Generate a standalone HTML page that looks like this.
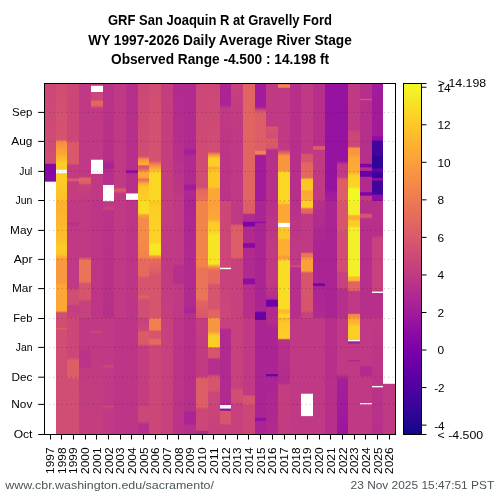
<!DOCTYPE html><html><head><meta charset="utf-8"><style>html,body{margin:0;padding:0;background:#fff;width:500px;height:500px;overflow:hidden}svg{display:block}text{font-family:"Liberation Sans",sans-serif}</style></head><body>
<svg width="500" height="500" viewBox="0 0 500 500" style="will-change:transform">
<defs>
<linearGradient id="g0" gradientUnits="userSpaceOnUse" x1="0" y1="83.5" x2="0" y2="434.5">
<stop offset="0.0000" stop-color="#cc4778"/>
<stop offset="0.2272" stop-color="#d04d73"/>
<stop offset="0.2299" stop-color="#8808a6"/>
<stop offset="0.2796" stop-color="#8808a6"/>
<stop offset="0.2803" stop-color="#cc4778"/>
<stop offset="1.0000" stop-color="#cc4778"/>
</linearGradient>
<linearGradient id="g1" gradientUnits="userSpaceOnUse" x1="0" y1="83.5" x2="0" y2="434.5">
<stop offset="0.0000" stop-color="#d04d73"/>
<stop offset="0.1600" stop-color="#d5536f"/>
<stop offset="0.1653" stop-color="#f58b47"/>
<stop offset="0.2003" stop-color="#fca636"/>
<stop offset="0.2272" stop-color="#fcce25"/>
<stop offset="0.2440" stop-color="#fcce25"/>
<stop offset="0.2575" stop-color="#fcce25"/>
<stop offset="0.3348" stop-color="#febe2a"/>
<stop offset="0.3348" stop-color="#fdae32"/>
<stop offset="0.4462" stop-color="#febe2a"/>
<stop offset="0.4664" stop-color="#fcce25"/>
<stop offset="0.4866" stop-color="#fdc627"/>
<stop offset="0.5000" stop-color="#f9983e"/>
<stop offset="0.5673" stop-color="#f9983e"/>
<stop offset="0.5740" stop-color="#fca636"/>
<stop offset="0.6479" stop-color="#fca636"/>
<stop offset="0.6533" stop-color="#d04d73"/>
<stop offset="0.6652" stop-color="#d04d73"/>
<stop offset="0.6955" stop-color="#d04d73"/>
<stop offset="0.6989" stop-color="#e16462"/>
<stop offset="0.7022" stop-color="#d04d73"/>
<stop offset="1.0000" stop-color="#d04d73"/>
</linearGradient>
<linearGradient id="g2" gradientUnits="userSpaceOnUse" x1="0" y1="83.5" x2="0" y2="434.5">
<stop offset="0.0000" stop-color="#cc4778"/>
<stop offset="0.1600" stop-color="#cc4778"/>
<stop offset="0.1700" stop-color="#d9586a"/>
<stop offset="0.2272" stop-color="#d9586a"/>
<stop offset="0.2339" stop-color="#c13b82"/>
<stop offset="0.2675" stop-color="#c13b82"/>
<stop offset="0.2743" stop-color="#e16462"/>
<stop offset="0.2810" stop-color="#c43e7f"/>
<stop offset="0.3348" stop-color="#c43e7f"/>
<stop offset="0.3348" stop-color="#bf3984"/>
<stop offset="0.3924" stop-color="#bf3984"/>
<stop offset="0.3991" stop-color="#b6308b"/>
<stop offset="0.4092" stop-color="#bf3984"/>
<stop offset="0.5807" stop-color="#bf3984"/>
<stop offset="0.5908" stop-color="#d04d73"/>
<stop offset="0.6278" stop-color="#d04d73"/>
<stop offset="0.6345" stop-color="#c43e7f"/>
<stop offset="0.6681" stop-color="#c6417d"/>
<stop offset="0.6681" stop-color="#cc4778"/>
<stop offset="0.7796" stop-color="#cc4778"/>
<stop offset="0.7896" stop-color="#dd5e66"/>
<stop offset="0.8367" stop-color="#dd5e66"/>
<stop offset="0.8434" stop-color="#d04d73"/>
<stop offset="1.0000" stop-color="#d04d73"/>
</linearGradient>
<linearGradient id="g3" gradientUnits="userSpaceOnUse" x1="0" y1="83.5" x2="0" y2="434.5">
<stop offset="0.0000" stop-color="#bf3984"/>
<stop offset="0.2642" stop-color="#bf3984"/>
<stop offset="0.2709" stop-color="#e16462"/>
<stop offset="0.2843" stop-color="#dd5e66"/>
<stop offset="0.2891" stop-color="#c6417d"/>
<stop offset="0.3348" stop-color="#c13b82"/>
<stop offset="0.3348" stop-color="#bf3984"/>
<stop offset="0.4933" stop-color="#bf3984"/>
<stop offset="0.5034" stop-color="#ea7457"/>
<stop offset="0.5639" stop-color="#ea7457"/>
<stop offset="0.5706" stop-color="#d6556d"/>
<stop offset="0.6143" stop-color="#d6556d"/>
<stop offset="0.6210" stop-color="#c6417d"/>
<stop offset="0.6681" stop-color="#c6417d"/>
<stop offset="0.6681" stop-color="#bf3984"/>
<stop offset="0.7560" stop-color="#bf3984"/>
<stop offset="0.7627" stop-color="#ba3388"/>
<stop offset="0.8064" stop-color="#ba3388"/>
<stop offset="0.8132" stop-color="#c13b82"/>
<stop offset="1.0000" stop-color="#c43e7f"/>
</linearGradient>
<linearGradient id="g4" gradientUnits="userSpaceOnUse" x1="0" y1="83.5" x2="0" y2="434.5">
<stop offset="0.0000" stop-color="#c6417d"/>
<stop offset="0.0456" stop-color="#cc4778"/>
<stop offset="0.0524" stop-color="#e56a5d"/>
<stop offset="0.0625" stop-color="#e16462"/>
<stop offset="0.0692" stop-color="#c6417d"/>
<stop offset="0.0759" stop-color="#bf3984"/>
<stop offset="0.3348" stop-color="#bf3984"/>
<stop offset="0.3348" stop-color="#bc3587"/>
<stop offset="0.6681" stop-color="#bc3587"/>
<stop offset="0.6681" stop-color="#bf3984"/>
<stop offset="0.7022" stop-color="#bf3984"/>
<stop offset="0.7089" stop-color="#cc4778"/>
<stop offset="0.7137" stop-color="#bf3984"/>
<stop offset="1.0000" stop-color="#c43e7f"/>
</linearGradient>
<linearGradient id="g5" gradientUnits="userSpaceOnUse" x1="0" y1="83.5" x2="0" y2="434.5">
<stop offset="0.0000" stop-color="#ba3388"/>
<stop offset="0.2171" stop-color="#b6308b"/>
<stop offset="0.2272" stop-color="#ab2494"/>
<stop offset="0.2406" stop-color="#ab2494"/>
<stop offset="0.2474" stop-color="#b6308b"/>
<stop offset="0.2877" stop-color="#b6308b"/>
<stop offset="0.3353" stop-color="#bf3984"/>
<stop offset="0.3487" stop-color="#bf3984"/>
<stop offset="0.3554" stop-color="#cc4778"/>
<stop offset="0.3622" stop-color="#ba3388"/>
<stop offset="0.6681" stop-color="#b6308b"/>
<stop offset="0.6681" stop-color="#bf3984"/>
<stop offset="0.7997" stop-color="#bf3984"/>
<stop offset="0.8064" stop-color="#cc4778"/>
<stop offset="0.8132" stop-color="#bf3984"/>
<stop offset="0.9140" stop-color="#bf3984"/>
<stop offset="0.9208" stop-color="#cc4778"/>
<stop offset="0.9275" stop-color="#bf3984"/>
<stop offset="1.0000" stop-color="#bf3984"/>
</linearGradient>
<linearGradient id="g6" gradientUnits="userSpaceOnUse" x1="0" y1="83.5" x2="0" y2="434.5">
<stop offset="0.0000" stop-color="#bf3984"/>
<stop offset="0.2944" stop-color="#bf3984"/>
<stop offset="0.3045" stop-color="#dd5e66"/>
<stop offset="0.3146" stop-color="#bf3984"/>
<stop offset="0.3348" stop-color="#bf3984"/>
<stop offset="0.3348" stop-color="#bf3984"/>
<stop offset="0.6681" stop-color="#bf3984"/>
<stop offset="0.6681" stop-color="#bc3587"/>
<stop offset="1.0000" stop-color="#bc3587"/>
</linearGradient>
<linearGradient id="g7" gradientUnits="userSpaceOnUse" x1="0" y1="83.5" x2="0" y2="434.5">
<stop offset="0.0000" stop-color="#b6308b"/>
<stop offset="0.2460" stop-color="#b6308b"/>
<stop offset="0.2487" stop-color="#8f0da4"/>
<stop offset="0.2541" stop-color="#8f0da4"/>
<stop offset="0.2568" stop-color="#b6308b"/>
<stop offset="0.3348" stop-color="#b6308b"/>
<stop offset="0.3348" stop-color="#bc3587"/>
<stop offset="0.6681" stop-color="#bc3587"/>
<stop offset="0.6681" stop-color="#bc3587"/>
<stop offset="1.0000" stop-color="#bc3587"/>
</linearGradient>
<linearGradient id="g8" gradientUnits="userSpaceOnUse" x1="0" y1="83.5" x2="0" y2="434.5">
<stop offset="0.0000" stop-color="#cc4778"/>
<stop offset="0.2070" stop-color="#d04d73"/>
<stop offset="0.2171" stop-color="#f89540"/>
<stop offset="0.2306" stop-color="#fdae32"/>
<stop offset="0.2353" stop-color="#d6556d"/>
<stop offset="0.2440" stop-color="#e16462"/>
<stop offset="0.2541" stop-color="#fca636"/>
<stop offset="0.2675" stop-color="#fca636"/>
<stop offset="0.2743" stop-color="#e56a5d"/>
<stop offset="0.2843" stop-color="#fca636"/>
<stop offset="0.2944" stop-color="#fdc627"/>
<stop offset="0.3348" stop-color="#fcce25"/>
<stop offset="0.3348" stop-color="#f9dc24"/>
<stop offset="0.3689" stop-color="#f9dc24"/>
<stop offset="0.3756" stop-color="#fb9f3a"/>
<stop offset="0.3857" stop-color="#f58b47"/>
<stop offset="0.4395" stop-color="#f58b47"/>
<stop offset="0.4933" stop-color="#f2844b"/>
<stop offset="0.5034" stop-color="#e56a5d"/>
<stop offset="0.5471" stop-color="#e56a5d"/>
<stop offset="0.5538" stop-color="#d6556d"/>
<stop offset="0.6009" stop-color="#d6556d"/>
<stop offset="0.6076" stop-color="#e16462"/>
<stop offset="0.6177" stop-color="#d04d73"/>
<stop offset="0.6681" stop-color="#d04d73"/>
<stop offset="0.6681" stop-color="#c6417d"/>
<stop offset="0.7022" stop-color="#cc4778"/>
<stop offset="0.7089" stop-color="#da5b69"/>
<stop offset="0.7426" stop-color="#d9586a"/>
<stop offset="0.7493" stop-color="#c43e7f"/>
<stop offset="0.9140" stop-color="#c43e7f"/>
<stop offset="0.9241" stop-color="#cc4778"/>
<stop offset="0.9611" stop-color="#cc4778"/>
<stop offset="0.9712" stop-color="#b6308b"/>
<stop offset="0.9947" stop-color="#b6308b"/>
<stop offset="1.0000" stop-color="#bf3984"/>
</linearGradient>
<linearGradient id="g9" gradientUnits="userSpaceOnUse" x1="0" y1="83.5" x2="0" y2="434.5">
<stop offset="0.0000" stop-color="#d04d73"/>
<stop offset="0.2205" stop-color="#d5536f"/>
<stop offset="0.2306" stop-color="#f2844b"/>
<stop offset="0.2440" stop-color="#fdae32"/>
<stop offset="0.2575" stop-color="#fbd724"/>
<stop offset="0.3348" stop-color="#fbd724"/>
<stop offset="0.3348" stop-color="#febe2a"/>
<stop offset="0.3487" stop-color="#fcce25"/>
<stop offset="0.4529" stop-color="#fcd225"/>
<stop offset="0.4597" stop-color="#f6e826"/>
<stop offset="0.4866" stop-color="#f7e425"/>
<stop offset="0.4933" stop-color="#f89540"/>
<stop offset="0.5034" stop-color="#e56a5d"/>
<stop offset="0.5336" stop-color="#dd5e66"/>
<stop offset="0.5471" stop-color="#d6556d"/>
<stop offset="0.6681" stop-color="#d6556d"/>
<stop offset="0.6681" stop-color="#e16462"/>
<stop offset="0.6720" stop-color="#ef7e50"/>
<stop offset="0.7022" stop-color="#ef7e50"/>
<stop offset="0.7056" stop-color="#d6556d"/>
<stop offset="0.7258" stop-color="#d6556d"/>
<stop offset="0.7291" stop-color="#e56a5d"/>
<stop offset="0.7426" stop-color="#e56a5d"/>
<stop offset="0.7473" stop-color="#cc4778"/>
<stop offset="1.0000" stop-color="#cc4778"/>
</linearGradient>
<linearGradient id="g10" gradientUnits="userSpaceOnUse" x1="0" y1="83.5" x2="0" y2="434.5">
<stop offset="0.0000" stop-color="#c43e7f"/>
<stop offset="0.3348" stop-color="#c43e7f"/>
<stop offset="0.5000" stop-color="#bf3984"/>
<stop offset="0.6681" stop-color="#c43e7f"/>
<stop offset="0.6681" stop-color="#c6417d"/>
<stop offset="1.0000" stop-color="#c6417d"/>
</linearGradient>
<linearGradient id="g11" gradientUnits="userSpaceOnUse" x1="0" y1="83.5" x2="0" y2="434.5">
<stop offset="0.0000" stop-color="#b12a90"/>
<stop offset="0.2003" stop-color="#b6308b"/>
<stop offset="0.3348" stop-color="#bf3984"/>
<stop offset="0.5135" stop-color="#bf3984"/>
<stop offset="0.5202" stop-color="#b6308b"/>
<stop offset="0.5673" stop-color="#b6308b"/>
<stop offset="0.5740" stop-color="#bf3984"/>
<stop offset="0.6681" stop-color="#bf3984"/>
<stop offset="0.6681" stop-color="#bc3587"/>
<stop offset="1.0000" stop-color="#ba3388"/>
</linearGradient>
<linearGradient id="g12" gradientUnits="userSpaceOnUse" x1="0" y1="83.5" x2="0" y2="434.5">
<stop offset="0.0000" stop-color="#b12a90"/>
<stop offset="0.1835" stop-color="#b12a90"/>
<stop offset="0.1902" stop-color="#a51f99"/>
<stop offset="0.2003" stop-color="#a51f99"/>
<stop offset="0.2070" stop-color="#b12a90"/>
<stop offset="0.2843" stop-color="#b12a90"/>
<stop offset="0.2911" stop-color="#a11b9b"/>
<stop offset="0.3012" stop-color="#a11b9b"/>
<stop offset="0.3079" stop-color="#b12a90"/>
<stop offset="0.3348" stop-color="#ab2494"/>
<stop offset="0.3348" stop-color="#ab2494"/>
<stop offset="0.4664" stop-color="#b12a90"/>
<stop offset="0.6345" stop-color="#b12a90"/>
<stop offset="0.6412" stop-color="#ab2494"/>
<stop offset="0.6513" stop-color="#ab2494"/>
<stop offset="0.6580" stop-color="#b6308b"/>
<stop offset="0.6652" stop-color="#b6308b"/>
<stop offset="0.9308" stop-color="#b6308b"/>
<stop offset="0.9376" stop-color="#ab2494"/>
<stop offset="0.9678" stop-color="#ab2494"/>
<stop offset="0.9746" stop-color="#b6308b"/>
<stop offset="1.0000" stop-color="#b6308b"/>
</linearGradient>
<linearGradient id="g13" gradientUnits="userSpaceOnUse" x1="0" y1="83.5" x2="0" y2="434.5">
<stop offset="0.0000" stop-color="#cc4778"/>
<stop offset="0.2944" stop-color="#d04d73"/>
<stop offset="0.3045" stop-color="#e56a5d"/>
<stop offset="0.3348" stop-color="#ea7457"/>
<stop offset="0.3348" stop-color="#f2844b"/>
<stop offset="0.5202" stop-color="#f2844b"/>
<stop offset="0.5269" stop-color="#ea7457"/>
<stop offset="0.6143" stop-color="#ea7457"/>
<stop offset="0.6210" stop-color="#e16462"/>
<stop offset="0.6681" stop-color="#d6556d"/>
<stop offset="0.6681" stop-color="#c43e7f"/>
<stop offset="0.8333" stop-color="#bf3984"/>
<stop offset="0.8414" stop-color="#dd5e66"/>
<stop offset="0.9208" stop-color="#dd5e66"/>
<stop offset="0.9275" stop-color="#cc4778"/>
<stop offset="0.9880" stop-color="#cc4778"/>
<stop offset="0.9914" stop-color="#b12a90"/>
<stop offset="0.9981" stop-color="#b12a90"/>
<stop offset="1.0000" stop-color="#bf3984"/>
</linearGradient>
<linearGradient id="g14" gradientUnits="userSpaceOnUse" x1="0" y1="83.5" x2="0" y2="434.5">
<stop offset="0.0000" stop-color="#cc4778"/>
<stop offset="0.1936" stop-color="#d04d73"/>
<stop offset="0.2037" stop-color="#f89540"/>
<stop offset="0.2137" stop-color="#fcce25"/>
<stop offset="0.2339" stop-color="#fcce25"/>
<stop offset="0.2406" stop-color="#fca636"/>
<stop offset="0.2507" stop-color="#fdc627"/>
<stop offset="0.2944" stop-color="#fdc627"/>
<stop offset="0.3012" stop-color="#fca636"/>
<stop offset="0.3348" stop-color="#fca636"/>
<stop offset="0.3348" stop-color="#fb9f3a"/>
<stop offset="0.3857" stop-color="#fca636"/>
<stop offset="0.3991" stop-color="#fcce25"/>
<stop offset="0.4193" stop-color="#fcce25"/>
<stop offset="0.4328" stop-color="#f7e425"/>
<stop offset="0.5135" stop-color="#f7e425"/>
<stop offset="0.5235" stop-color="#f58b47"/>
<stop offset="0.5336" stop-color="#e56a5d"/>
<stop offset="0.5673" stop-color="#e56a5d"/>
<stop offset="0.5740" stop-color="#d6556d"/>
<stop offset="0.6412" stop-color="#d6556d"/>
<stop offset="0.6479" stop-color="#e16462"/>
<stop offset="0.6681" stop-color="#e16462"/>
<stop offset="0.6681" stop-color="#f89540"/>
<stop offset="0.7056" stop-color="#f89540"/>
<stop offset="0.7190" stop-color="#fcce25"/>
<stop offset="0.7493" stop-color="#fcce25"/>
<stop offset="0.7540" stop-color="#d6556d"/>
<stop offset="0.7796" stop-color="#d6556d"/>
<stop offset="0.7863" stop-color="#b6308b"/>
<stop offset="0.8266" stop-color="#b6308b"/>
<stop offset="0.8367" stop-color="#d6556d"/>
<stop offset="0.8737" stop-color="#d6556d"/>
<stop offset="0.8804" stop-color="#cc4778"/>
<stop offset="1.0000" stop-color="#c6417d"/>
</linearGradient>
<linearGradient id="g15" gradientUnits="userSpaceOnUse" x1="0" y1="83.5" x2="0" y2="434.5">
<stop offset="0.0000" stop-color="#ab2494"/>
<stop offset="0.0625" stop-color="#ab2494"/>
<stop offset="0.0692" stop-color="#bf3984"/>
<stop offset="0.3348" stop-color="#ba3388"/>
<stop offset="0.3348" stop-color="#cc4778"/>
<stop offset="0.5202" stop-color="#cc4778"/>
<stop offset="0.5336" stop-color="#c6417d"/>
<stop offset="0.6681" stop-color="#cc4778"/>
<stop offset="0.6681" stop-color="#c6417d"/>
<stop offset="0.6955" stop-color="#c6417d"/>
<stop offset="0.7022" stop-color="#b12a90"/>
<stop offset="0.9140" stop-color="#b12a90"/>
<stop offset="0.9261" stop-color="#8f0da4"/>
<stop offset="0.9308" stop-color="#8f0da4"/>
<stop offset="0.9342" stop-color="#d6556d"/>
<stop offset="0.9678" stop-color="#d6556d"/>
<stop offset="0.9746" stop-color="#c6417d"/>
<stop offset="1.0000" stop-color="#c6417d"/>
</linearGradient>
<linearGradient id="g16" gradientUnits="userSpaceOnUse" x1="0" y1="83.5" x2="0" y2="434.5">
<stop offset="0.0000" stop-color="#c6417d"/>
<stop offset="0.1331" stop-color="#bf3984"/>
<stop offset="0.3348" stop-color="#bf3984"/>
<stop offset="0.3348" stop-color="#bf3984"/>
<stop offset="0.3991" stop-color="#bf3984"/>
<stop offset="0.4059" stop-color="#dd5e66"/>
<stop offset="0.4933" stop-color="#dd5e66"/>
<stop offset="0.5034" stop-color="#c6417d"/>
<stop offset="0.6681" stop-color="#c6417d"/>
<stop offset="0.6681" stop-color="#c6417d"/>
<stop offset="0.8670" stop-color="#c6417d"/>
<stop offset="0.8737" stop-color="#d04d73"/>
<stop offset="0.9073" stop-color="#d04d73"/>
<stop offset="0.9140" stop-color="#c6417d"/>
<stop offset="1.0000" stop-color="#c6417d"/>
</linearGradient>
<linearGradient id="g17" gradientUnits="userSpaceOnUse" x1="0" y1="83.5" x2="0" y2="434.5">
<stop offset="0.0000" stop-color="#e16462"/>
<stop offset="0.3348" stop-color="#e16462"/>
<stop offset="0.3348" stop-color="#dd5e66"/>
<stop offset="0.3689" stop-color="#dd5e66"/>
<stop offset="0.3736" stop-color="#b12a90"/>
<stop offset="0.3924" stop-color="#b12a90"/>
<stop offset="0.3958" stop-color="#7e03a8"/>
<stop offset="0.4059" stop-color="#7e03a8"/>
<stop offset="0.4092" stop-color="#b12a90"/>
<stop offset="0.4529" stop-color="#b12a90"/>
<stop offset="0.4563" stop-color="#8808a6"/>
<stop offset="0.4664" stop-color="#8808a6"/>
<stop offset="0.4698" stop-color="#b12a90"/>
<stop offset="0.5538" stop-color="#b12a90"/>
<stop offset="0.5572" stop-color="#8f0da4"/>
<stop offset="0.5706" stop-color="#8f0da4"/>
<stop offset="0.5740" stop-color="#b6308b"/>
<stop offset="0.6681" stop-color="#b6308b"/>
<stop offset="0.6681" stop-color="#bf3984"/>
<stop offset="0.8871" stop-color="#bf3984"/>
<stop offset="0.8905" stop-color="#d6556d"/>
<stop offset="0.9140" stop-color="#d6556d"/>
<stop offset="0.9174" stop-color="#cc4778"/>
<stop offset="1.0000" stop-color="#cc4778"/>
</linearGradient>
<linearGradient id="g18" gradientUnits="userSpaceOnUse" x1="0" y1="83.5" x2="0" y2="434.5">
<stop offset="0.0000" stop-color="#a11b9b"/>
<stop offset="0.0658" stop-color="#a11b9b"/>
<stop offset="0.0759" stop-color="#cc4778"/>
<stop offset="0.0826" stop-color="#dd5e66"/>
<stop offset="0.1902" stop-color="#dd5e66"/>
<stop offset="0.1936" stop-color="#f2844b"/>
<stop offset="0.2003" stop-color="#f2844b"/>
<stop offset="0.2057" stop-color="#a11b9b"/>
<stop offset="0.3348" stop-color="#a11b9b"/>
<stop offset="0.3348" stop-color="#ab2494"/>
<stop offset="0.3924" stop-color="#ab2494"/>
<stop offset="0.3944" stop-color="#8f0da4"/>
<stop offset="0.3978" stop-color="#8f0da4"/>
<stop offset="0.3991" stop-color="#ab2494"/>
<stop offset="0.6479" stop-color="#ab2494"/>
<stop offset="0.6533" stop-color="#6a00a8"/>
<stop offset="0.6681" stop-color="#6a00a8"/>
<stop offset="0.6681" stop-color="#7201a8"/>
<stop offset="0.6733" stop-color="#7201a8"/>
<stop offset="0.6753" stop-color="#ab2494"/>
<stop offset="0.9510" stop-color="#ab2494"/>
<stop offset="0.9544" stop-color="#8f0da4"/>
<stop offset="0.9598" stop-color="#8f0da4"/>
<stop offset="0.9624" stop-color="#ab2494"/>
<stop offset="1.0000" stop-color="#ab2494"/>
</linearGradient>
<linearGradient id="g19" gradientUnits="userSpaceOnUse" x1="0" y1="83.5" x2="0" y2="434.5">
<stop offset="0.0000" stop-color="#bf3984"/>
<stop offset="0.1196" stop-color="#bf3984"/>
<stop offset="0.1250" stop-color="#d6556d"/>
<stop offset="0.1532" stop-color="#d04d73"/>
<stop offset="0.1600" stop-color="#dd5e66"/>
<stop offset="0.1835" stop-color="#d6556d"/>
<stop offset="0.1902" stop-color="#b6308b"/>
<stop offset="0.3348" stop-color="#b6308b"/>
<stop offset="0.3348" stop-color="#b6308b"/>
<stop offset="0.4664" stop-color="#bf3984"/>
<stop offset="0.5740" stop-color="#bf3984"/>
<stop offset="0.6143" stop-color="#b12a90"/>
<stop offset="0.6177" stop-color="#7201a8"/>
<stop offset="0.6345" stop-color="#7201a8"/>
<stop offset="0.6379" stop-color="#b12a90"/>
<stop offset="0.6681" stop-color="#b12a90"/>
<stop offset="0.6681" stop-color="#b6308b"/>
<stop offset="0.6989" stop-color="#ab2494"/>
<stop offset="0.8266" stop-color="#ab2494"/>
<stop offset="0.8286" stop-color="#7201a8"/>
<stop offset="0.8333" stop-color="#7201a8"/>
<stop offset="0.8354" stop-color="#ab2494"/>
<stop offset="1.0000" stop-color="#b12a90"/>
</linearGradient>
<linearGradient id="g20" gradientUnits="userSpaceOnUse" x1="0" y1="83.5" x2="0" y2="434.5">
<stop offset="0.0000" stop-color="#bf3984"/>
<stop offset="0.0040" stop-color="#f2844b"/>
<stop offset="0.0107" stop-color="#f2844b"/>
<stop offset="0.0134" stop-color="#bf3984"/>
<stop offset="0.1869" stop-color="#bf3984"/>
<stop offset="0.1936" stop-color="#d6556d"/>
<stop offset="0.2070" stop-color="#f89540"/>
<stop offset="0.2474" stop-color="#f89540"/>
<stop offset="0.2541" stop-color="#fbd724"/>
<stop offset="0.3348" stop-color="#fbd724"/>
<stop offset="0.3348" stop-color="#fdc627"/>
<stop offset="0.3420" stop-color="#fdc627"/>
<stop offset="0.3454" stop-color="#fca636"/>
<stop offset="0.3924" stop-color="#fca636"/>
<stop offset="0.4126" stop-color="#fdc627"/>
<stop offset="0.4395" stop-color="#fdc627"/>
<stop offset="0.4462" stop-color="#fdae32"/>
<stop offset="0.4866" stop-color="#fdae32"/>
<stop offset="0.4966" stop-color="#f89540"/>
<stop offset="0.5067" stop-color="#f9dc24"/>
<stop offset="0.6412" stop-color="#f9dc24"/>
<stop offset="0.6446" stop-color="#feba2c"/>
<stop offset="0.6547" stop-color="#feba2c"/>
<stop offset="0.6580" stop-color="#fbd724"/>
<stop offset="0.6681" stop-color="#fbd724"/>
<stop offset="0.6681" stop-color="#fdae32"/>
<stop offset="0.6821" stop-color="#fdc627"/>
<stop offset="0.7258" stop-color="#fcce25"/>
<stop offset="0.7305" stop-color="#b6308b"/>
<stop offset="0.8535" stop-color="#b32c8e"/>
<stop offset="0.8602" stop-color="#c43e7f"/>
<stop offset="1.0000" stop-color="#c13b82"/>
</linearGradient>
<linearGradient id="g21" gradientUnits="userSpaceOnUse" x1="0" y1="83.5" x2="0" y2="434.5">
<stop offset="0.0000" stop-color="#b6308b"/>
<stop offset="0.3348" stop-color="#b6308b"/>
<stop offset="0.3348" stop-color="#b6308b"/>
<stop offset="0.4664" stop-color="#bf3984"/>
<stop offset="0.5168" stop-color="#bf3984"/>
<stop offset="0.5202" stop-color="#d6556d"/>
<stop offset="0.5235" stop-color="#bf3984"/>
<stop offset="0.5269" stop-color="#b6308b"/>
<stop offset="0.6681" stop-color="#b6308b"/>
<stop offset="0.6681" stop-color="#bf3984"/>
<stop offset="1.0000" stop-color="#bf3984"/>
</linearGradient>
<linearGradient id="g22" gradientUnits="userSpaceOnUse" x1="0" y1="83.5" x2="0" y2="434.5">
<stop offset="0.0000" stop-color="#bf3984"/>
<stop offset="0.1969" stop-color="#bf3984"/>
<stop offset="0.2037" stop-color="#d6556d"/>
<stop offset="0.2205" stop-color="#d6556d"/>
<stop offset="0.2272" stop-color="#e16462"/>
<stop offset="0.2675" stop-color="#e56a5d"/>
<stop offset="0.2743" stop-color="#fdc627"/>
<stop offset="0.3012" stop-color="#fdc627"/>
<stop offset="0.3079" stop-color="#fca636"/>
<stop offset="0.3348" stop-color="#fdae32"/>
<stop offset="0.3348" stop-color="#fcce25"/>
<stop offset="0.3521" stop-color="#fcce25"/>
<stop offset="0.3575" stop-color="#e56a5d"/>
<stop offset="0.3689" stop-color="#e16462"/>
<stop offset="0.3736" stop-color="#bf3984"/>
<stop offset="0.4798" stop-color="#bf3984"/>
<stop offset="0.4852" stop-color="#ea7457"/>
<stop offset="0.4933" stop-color="#ea7457"/>
<stop offset="0.5000" stop-color="#fb9f3a"/>
<stop offset="0.5336" stop-color="#fb9f3a"/>
<stop offset="0.5404" stop-color="#d6556d"/>
<stop offset="0.6479" stop-color="#d6556d"/>
<stop offset="0.6533" stop-color="#c6417d"/>
<stop offset="0.6681" stop-color="#c6417d"/>
<stop offset="0.6681" stop-color="#bf3984"/>
<stop offset="1.0000" stop-color="#bf3984"/>
</linearGradient>
<linearGradient id="g23" gradientUnits="userSpaceOnUse" x1="0" y1="83.5" x2="0" y2="434.5">
<stop offset="0.0000" stop-color="#b6308b"/>
<stop offset="0.1768" stop-color="#b6308b"/>
<stop offset="0.1801" stop-color="#dd5e66"/>
<stop offset="0.1869" stop-color="#dd5e66"/>
<stop offset="0.1902" stop-color="#bf3984"/>
<stop offset="0.3348" stop-color="#bf3984"/>
<stop offset="0.3348" stop-color="#b6308b"/>
<stop offset="0.4664" stop-color="#ab2494"/>
<stop offset="0.5686" stop-color="#ab2494"/>
<stop offset="0.5706" stop-color="#7201a8"/>
<stop offset="0.5753" stop-color="#7201a8"/>
<stop offset="0.5773" stop-color="#ab2494"/>
<stop offset="0.6681" stop-color="#b12a90"/>
<stop offset="0.6681" stop-color="#bf3984"/>
<stop offset="1.0000" stop-color="#bf3984"/>
</linearGradient>
<linearGradient id="g24" gradientUnits="userSpaceOnUse" x1="0" y1="83.5" x2="0" y2="434.5">
<stop offset="0.0000" stop-color="#9613a1"/>
<stop offset="0.3012" stop-color="#9613a1"/>
<stop offset="0.3146" stop-color="#a11b9b"/>
<stop offset="0.3348" stop-color="#a51f99"/>
<stop offset="0.3348" stop-color="#ab2494"/>
<stop offset="0.6681" stop-color="#ab2494"/>
<stop offset="0.6681" stop-color="#b6308b"/>
<stop offset="1.0000" stop-color="#b6308b"/>
</linearGradient>
<linearGradient id="g25" gradientUnits="userSpaceOnUse" x1="0" y1="83.5" x2="0" y2="434.5">
<stop offset="0.0000" stop-color="#9613a1"/>
<stop offset="0.2205" stop-color="#9613a1"/>
<stop offset="0.2306" stop-color="#bf3984"/>
<stop offset="0.2642" stop-color="#bf3984"/>
<stop offset="0.2743" stop-color="#dd5e66"/>
<stop offset="0.3348" stop-color="#dd5e66"/>
<stop offset="0.3348" stop-color="#d6556d"/>
<stop offset="0.4193" stop-color="#d6556d"/>
<stop offset="0.4260" stop-color="#d04d73"/>
<stop offset="0.5336" stop-color="#d04d73"/>
<stop offset="0.5404" stop-color="#c6417d"/>
<stop offset="0.5807" stop-color="#c6417d"/>
<stop offset="0.5874" stop-color="#b6308b"/>
<stop offset="0.6681" stop-color="#b6308b"/>
<stop offset="0.6681" stop-color="#bf3984"/>
<stop offset="0.8266" stop-color="#bf3984"/>
<stop offset="0.8434" stop-color="#a51f99"/>
<stop offset="1.0000" stop-color="#9a169f"/>
</linearGradient>
<linearGradient id="g26" gradientUnits="userSpaceOnUse" x1="0" y1="83.5" x2="0" y2="434.5">
<stop offset="0.0000" stop-color="#bf3984"/>
<stop offset="0.1297" stop-color="#bf3984"/>
<stop offset="0.1398" stop-color="#cc4778"/>
<stop offset="0.1788" stop-color="#cc4778"/>
<stop offset="0.1855" stop-color="#f89540"/>
<stop offset="0.2003" stop-color="#f89540"/>
<stop offset="0.2137" stop-color="#fca636"/>
<stop offset="0.2541" stop-color="#fdae32"/>
<stop offset="0.2608" stop-color="#fcce25"/>
<stop offset="0.2944" stop-color="#fbd724"/>
<stop offset="0.3012" stop-color="#f0f921"/>
<stop offset="0.3348" stop-color="#f0f921"/>
<stop offset="0.3348" stop-color="#f3f027"/>
<stop offset="0.3723" stop-color="#f3f027"/>
<stop offset="0.3776" stop-color="#fdae32"/>
<stop offset="0.3857" stop-color="#fdae32"/>
<stop offset="0.3924" stop-color="#fcce25"/>
<stop offset="0.4059" stop-color="#fcce25"/>
<stop offset="0.4126" stop-color="#f3f027"/>
<stop offset="0.5471" stop-color="#f3f027"/>
<stop offset="0.5525" stop-color="#feba2c"/>
<stop offset="0.5605" stop-color="#feba2c"/>
<stop offset="0.5659" stop-color="#e16462"/>
<stop offset="0.5874" stop-color="#e16462"/>
<stop offset="0.5941" stop-color="#bf3984"/>
<stop offset="0.6547" stop-color="#bf3984"/>
<stop offset="0.6580" stop-color="#f2844b"/>
<stop offset="0.6681" stop-color="#f89540"/>
<stop offset="0.6681" stop-color="#fca636"/>
<stop offset="0.6854" stop-color="#feba2c"/>
<stop offset="0.6921" stop-color="#fcce25"/>
<stop offset="0.7291" stop-color="#fcce25"/>
<stop offset="0.7345" stop-color="#a11b9b"/>
<stop offset="0.7392" stop-color="#a11b9b"/>
<stop offset="0.7426" stop-color="#bf3984"/>
<stop offset="0.7863" stop-color="#bf3984"/>
<stop offset="0.7896" stop-color="#ab2494"/>
<stop offset="0.7930" stop-color="#bf3984"/>
<stop offset="1.0000" stop-color="#bf3984"/>
</linearGradient>
<linearGradient id="g27" gradientUnits="userSpaceOnUse" x1="0" y1="83.5" x2="0" y2="434.5">
<stop offset="0.0000" stop-color="#b6308b"/>
<stop offset="0.0423" stop-color="#b6308b"/>
<stop offset="0.0456" stop-color="#d6556d"/>
<stop offset="0.0490" stop-color="#b6308b"/>
<stop offset="0.2272" stop-color="#b6308b"/>
<stop offset="0.2306" stop-color="#7e03a8"/>
<stop offset="0.2373" stop-color="#7e03a8"/>
<stop offset="0.2406" stop-color="#b6308b"/>
<stop offset="0.2474" stop-color="#b6308b"/>
<stop offset="0.2507" stop-color="#6a00a8"/>
<stop offset="0.2642" stop-color="#6a00a8"/>
<stop offset="0.2675" stop-color="#b12a90"/>
<stop offset="0.3079" stop-color="#b12a90"/>
<stop offset="0.3112" stop-color="#7e03a8"/>
<stop offset="0.3180" stop-color="#7e03a8"/>
<stop offset="0.3213" stop-color="#bf3984"/>
<stop offset="0.3348" stop-color="#bf3984"/>
<stop offset="0.3348" stop-color="#b6308b"/>
<stop offset="0.3689" stop-color="#b6308b"/>
<stop offset="0.3736" stop-color="#d6556d"/>
<stop offset="0.3803" stop-color="#d6556d"/>
<stop offset="0.3857" stop-color="#b6308b"/>
<stop offset="0.6681" stop-color="#b6308b"/>
<stop offset="0.6681" stop-color="#bf3984"/>
<stop offset="0.8031" stop-color="#bf3984"/>
<stop offset="0.8078" stop-color="#b12a90"/>
<stop offset="0.8320" stop-color="#b12a90"/>
<stop offset="0.8367" stop-color="#bf3984"/>
<stop offset="1.0000" stop-color="#bf3984"/>
</linearGradient>
<linearGradient id="g28" gradientUnits="userSpaceOnUse" x1="0" y1="83.5" x2="0" y2="434.5">
<stop offset="0.0000" stop-color="#a11b9b"/>
<stop offset="0.1479" stop-color="#a11b9b"/>
<stop offset="0.1519" stop-color="#8f0da4"/>
<stop offset="0.1613" stop-color="#8f0da4"/>
<stop offset="0.1653" stop-color="#41049d"/>
<stop offset="0.2037" stop-color="#41049d"/>
<stop offset="0.2084" stop-color="#2f0596"/>
<stop offset="0.2406" stop-color="#2f0596"/>
<stop offset="0.2440" stop-color="#6a00a8"/>
<stop offset="0.2507" stop-color="#6a00a8"/>
<stop offset="0.2541" stop-color="#38049a"/>
<stop offset="0.2675" stop-color="#38049a"/>
<stop offset="0.2709" stop-color="#8f0da4"/>
<stop offset="0.2756" stop-color="#8f0da4"/>
<stop offset="0.2776" stop-color="#41049d"/>
<stop offset="0.3146" stop-color="#41049d"/>
<stop offset="0.3180" stop-color="#8f0da4"/>
<stop offset="0.3348" stop-color="#8f0da4"/>
<stop offset="0.3348" stop-color="#b6308b"/>
<stop offset="0.4328" stop-color="#b6308b"/>
<stop offset="0.4395" stop-color="#c6417d"/>
<stop offset="0.5874" stop-color="#c6417d"/>
<stop offset="0.5975" stop-color="#b6308b"/>
<stop offset="0.6681" stop-color="#b6308b"/>
<stop offset="0.6681" stop-color="#bf3984"/>
<stop offset="1.0000" stop-color="#b6308b"/>
</linearGradient>
<linearGradient id="g29" gradientUnits="userSpaceOnUse" x1="0" y1="83.5" x2="0" y2="434.5">
<stop offset="0.0000" stop-color="#bf3984"/>
<stop offset="0.8555" stop-color="#bf3984"/>
<stop offset="1.0000" stop-color="#bf3984"/>
</linearGradient>
<linearGradient id="cb" x1="0" y1="1" x2="0" y2="0">
<stop offset="0.0000" stop-color="#0d0887"/>
<stop offset="0.0312" stop-color="#220690"/>
<stop offset="0.0625" stop-color="#310597"/>
<stop offset="0.0938" stop-color="#3f049c"/>
<stop offset="0.1250" stop-color="#4c02a1"/>
<stop offset="0.1562" stop-color="#5901a5"/>
<stop offset="0.1875" stop-color="#6600a7"/>
<stop offset="0.2188" stop-color="#7201a8"/>
<stop offset="0.2500" stop-color="#7e03a8"/>
<stop offset="0.2812" stop-color="#8a09a5"/>
<stop offset="0.3125" stop-color="#9511a1"/>
<stop offset="0.3438" stop-color="#a01a9c"/>
<stop offset="0.3750" stop-color="#aa2395"/>
<stop offset="0.4062" stop-color="#b32c8e"/>
<stop offset="0.4375" stop-color="#bc3587"/>
<stop offset="0.4688" stop-color="#c43e7f"/>
<stop offset="0.5000" stop-color="#cc4778"/>
<stop offset="0.5312" stop-color="#d35171"/>
<stop offset="0.5625" stop-color="#da5a6a"/>
<stop offset="0.5938" stop-color="#e06363"/>
<stop offset="0.6250" stop-color="#e66c5c"/>
<stop offset="0.6562" stop-color="#eb7655"/>
<stop offset="0.6875" stop-color="#f0804e"/>
<stop offset="0.7188" stop-color="#f58b47"/>
<stop offset="0.7500" stop-color="#f89540"/>
<stop offset="0.7812" stop-color="#fba139"/>
<stop offset="0.8125" stop-color="#fdac33"/>
<stop offset="0.8438" stop-color="#feb82c"/>
<stop offset="0.8750" stop-color="#fdc527"/>
<stop offset="0.9062" stop-color="#fcd225"/>
<stop offset="0.9375" stop-color="#f8df25"/>
<stop offset="0.9688" stop-color="#f4ed27"/>
<stop offset="1.0000" stop-color="#f0f921"/>
</linearGradient>
</defs>
<rect x="44" y="83.5" width="12" height="351.0" fill="url(#g0)" shape-rendering="crispEdges"/>
<rect x="44" y="181.65" width="12" height="252.85" fill="#fff"/>
<rect x="56" y="83.5" width="11" height="351.0" fill="url(#g1)" shape-rendering="crispEdges"/>
<rect x="56" y="169.85" width="11" height="3.30" fill="#fff"/>
<rect x="67" y="83.5" width="12" height="351.0" fill="url(#g2)" shape-rendering="crispEdges"/>
<rect x="79" y="83.5" width="12" height="351.0" fill="url(#g3)" shape-rendering="crispEdges"/>
<rect x="91" y="83.5" width="12" height="351.0" fill="url(#g4)" shape-rendering="crispEdges"/>
<rect x="91" y="85.83" width="12" height="6.14" fill="#fff"/>
<rect x="91" y="159.71" width="12" height="14.16" fill="#fff"/>
<rect x="103" y="83.5" width="11" height="351.0" fill="url(#g5)" shape-rendering="crispEdges"/>
<rect x="103" y="184.96" width="11" height="16.22" fill="#fff"/>
<rect x="114" y="83.5" width="12" height="351.0" fill="url(#g6)" shape-rendering="crispEdges"/>
<rect x="126" y="83.5" width="12" height="351.0" fill="url(#g7)" shape-rendering="crispEdges"/>
<rect x="126" y="193.46" width="12" height="6.37" fill="#fff"/>
<rect x="138" y="83.5" width="11" height="351.0" fill="url(#g8)" shape-rendering="crispEdges"/>
<rect x="149" y="83.5" width="12" height="351.0" fill="url(#g9)" shape-rendering="crispEdges"/>
<rect x="161" y="83.5" width="12" height="351.0" fill="url(#g10)" shape-rendering="crispEdges"/>
<rect x="173" y="83.5" width="11" height="351.0" fill="url(#g11)" shape-rendering="crispEdges"/>
<rect x="184" y="83.5" width="12" height="351.0" fill="url(#g12)" shape-rendering="crispEdges"/>
<rect x="196" y="83.5" width="12" height="351.0" fill="url(#g13)" shape-rendering="crispEdges"/>
<rect x="208" y="83.5" width="12" height="351.0" fill="url(#g14)" shape-rendering="crispEdges"/>
<rect x="220" y="83.5" width="11" height="351.0" fill="url(#g15)" shape-rendering="crispEdges"/>
<rect x="220" y="267.74" width="11" height="1.42" fill="#fff"/>
<rect x="220" y="405.03" width="11" height="3.54" fill="#fff"/>
<rect x="231" y="83.5" width="12" height="351.0" fill="url(#g16)" shape-rendering="crispEdges"/>
<rect x="243" y="83.5" width="12" height="351.0" fill="url(#g17)" shape-rendering="crispEdges"/>
<rect x="255" y="83.5" width="11" height="351.0" fill="url(#g18)" shape-rendering="crispEdges"/>
<rect x="266" y="83.5" width="12" height="351.0" fill="url(#g19)" shape-rendering="crispEdges"/>
<rect x="278" y="83.5" width="12" height="351.0" fill="url(#g20)" shape-rendering="crispEdges"/>
<rect x="278" y="222.89" width="12" height="4.25" fill="#fff"/>
<rect x="290" y="83.5" width="11" height="351.0" fill="url(#g21)" shape-rendering="crispEdges"/>
<rect x="301" y="83.5" width="12" height="351.0" fill="url(#g22)" shape-rendering="crispEdges"/>
<rect x="301" y="393.71" width="12" height="22.42" fill="#fff"/>
<rect x="313" y="83.5" width="12" height="351.0" fill="url(#g23)" shape-rendering="crispEdges"/>
<rect x="325" y="83.5" width="12" height="351.0" fill="url(#g24)" shape-rendering="crispEdges"/>
<rect x="337" y="83.5" width="11" height="351.0" fill="url(#g25)" shape-rendering="crispEdges"/>
<rect x="348" y="83.5" width="12" height="351.0" fill="url(#g26)" shape-rendering="crispEdges"/>
<rect x="348" y="339.89" width="12" height="1.42" fill="#fff"/>
<rect x="360" y="83.5" width="12" height="351.0" fill="url(#g27)" shape-rendering="crispEdges"/>
<rect x="360" y="403.15" width="12" height="1.18" fill="#fff"/>
<rect x="372" y="83.5" width="11" height="351.0" fill="url(#g28)" shape-rendering="crispEdges"/>
<rect x="372" y="291.57" width="11" height="1.42" fill="#fff"/>
<rect x="372" y="385.92" width="11" height="1.42" fill="#fff"/>
<rect x="383" y="83.5" width="12" height="351.0" fill="url(#g29)" shape-rendering="crispEdges"/>
<rect x="383" y="83.50" width="12" height="300.29" fill="#fff"/>
<line x1="49.0" y1="404.40" x2="395.5" y2="404.40" stroke="#000" stroke-width="1" stroke-dasharray="1 3.35" opacity="0.25"/>
<line x1="49.0" y1="377.20" x2="395.5" y2="377.20" stroke="#000" stroke-width="1" stroke-dasharray="1 3.35" opacity="0.25"/>
<line x1="49.0" y1="347.40" x2="395.5" y2="347.40" stroke="#000" stroke-width="1" stroke-dasharray="1 3.35" opacity="0.25"/>
<line x1="49.0" y1="318.50" x2="395.5" y2="318.50" stroke="#000" stroke-width="1" stroke-dasharray="1 3.35" opacity="0.25"/>
<line x1="49.0" y1="288.60" x2="395.5" y2="288.60" stroke="#000" stroke-width="1" stroke-dasharray="1 3.35" opacity="0.25"/>
<line x1="49.0" y1="259.40" x2="395.5" y2="259.40" stroke="#000" stroke-width="1" stroke-dasharray="1 3.35" opacity="0.25"/>
<line x1="49.0" y1="230.40" x2="395.5" y2="230.40" stroke="#000" stroke-width="1" stroke-dasharray="1 3.35" opacity="0.25"/>
<line x1="49.0" y1="200.50" x2="395.5" y2="200.50" stroke="#000" stroke-width="1" stroke-dasharray="1 3.35" opacity="0.25"/>
<line x1="49.0" y1="171.40" x2="395.5" y2="171.40" stroke="#000" stroke-width="1" stroke-dasharray="1 3.35" opacity="0.25"/>
<line x1="49.0" y1="141.40" x2="395.5" y2="141.40" stroke="#000" stroke-width="1" stroke-dasharray="1 3.35" opacity="0.25"/>
<line x1="49.0" y1="112.40" x2="395.5" y2="112.40" stroke="#000" stroke-width="1" stroke-dasharray="1 3.35" opacity="0.25"/>
<rect x="44.5" y="83.5" width="351.0" height="351.0" fill="none" stroke="#000" stroke-width="1"/>
<line x1="38.2" y1="434.50" x2="44.5" y2="434.50" stroke="#000" stroke-width="1"/>
<text x="32.4" y="438.30" font-size="10.4" text-anchor="end" textLength="18.70" lengthAdjust="spacingAndGlyphs">Oct</text>
<line x1="38.2" y1="404.40" x2="44.5" y2="404.40" stroke="#000" stroke-width="1"/>
<text x="32.4" y="408.20" font-size="10.4" text-anchor="end" textLength="21.11" lengthAdjust="spacingAndGlyphs">Nov</text>
<line x1="38.2" y1="377.20" x2="44.5" y2="377.20" stroke="#000" stroke-width="1"/>
<text x="32.4" y="381.00" font-size="10.4" text-anchor="end" textLength="20.93" lengthAdjust="spacingAndGlyphs">Dec</text>
<line x1="38.2" y1="347.40" x2="44.5" y2="347.40" stroke="#000" stroke-width="1"/>
<text x="32.4" y="351.20" font-size="10.4" text-anchor="end" textLength="16.67" lengthAdjust="spacingAndGlyphs">Jan</text>
<line x1="38.2" y1="318.50" x2="44.5" y2="318.50" stroke="#000" stroke-width="1"/>
<text x="32.4" y="322.30" font-size="10.4" text-anchor="end" textLength="19.15" lengthAdjust="spacingAndGlyphs">Feb</text>
<line x1="38.2" y1="288.60" x2="44.5" y2="288.60" stroke="#000" stroke-width="1"/>
<text x="32.4" y="292.40" font-size="10.4" text-anchor="end" textLength="20.41" lengthAdjust="spacingAndGlyphs">Mar</text>
<line x1="38.2" y1="259.40" x2="44.5" y2="259.40" stroke="#000" stroke-width="1"/>
<text x="32.4" y="263.20" font-size="10.4" text-anchor="end" textLength="18.71" lengthAdjust="spacingAndGlyphs">Apr</text>
<line x1="38.2" y1="230.40" x2="44.5" y2="230.40" stroke="#000" stroke-width="1"/>
<text x="32.4" y="234.20" font-size="10.4" text-anchor="end" textLength="22.36" lengthAdjust="spacingAndGlyphs">May</text>
<line x1="38.2" y1="200.50" x2="44.5" y2="200.50" stroke="#000" stroke-width="1"/>
<text x="32.4" y="204.30" font-size="10.4" text-anchor="end" textLength="16.90" lengthAdjust="spacingAndGlyphs">Jun</text>
<line x1="38.2" y1="171.40" x2="44.5" y2="171.40" stroke="#000" stroke-width="1"/>
<text x="32.4" y="175.20" font-size="10.4" text-anchor="end" textLength="13.05" lengthAdjust="spacingAndGlyphs">Jul</text>
<line x1="38.2" y1="141.40" x2="44.5" y2="141.40" stroke="#000" stroke-width="1"/>
<text x="32.4" y="145.20" font-size="10.4" text-anchor="end" textLength="21.12" lengthAdjust="spacingAndGlyphs">Aug</text>
<line x1="38.2" y1="112.40" x2="44.5" y2="112.40" stroke="#000" stroke-width="1"/>
<text x="32.4" y="116.20" font-size="10.4" text-anchor="end" textLength="20.39" lengthAdjust="spacingAndGlyphs">Sep</text>
<line x1="50.50" y1="434.5" x2="50.50" y2="439.5" stroke="#000" stroke-width="1"/>
<text transform="translate(54.05,447.5) rotate(-90)" font-size="10.4" text-anchor="end" textLength="26.47" lengthAdjust="spacingAndGlyphs">1997</text>
<line x1="61.50" y1="434.5" x2="61.50" y2="439.5" stroke="#000" stroke-width="1"/>
<text transform="translate(65.75,447.5) rotate(-90)" font-size="10.4" text-anchor="end" textLength="26.47" lengthAdjust="spacingAndGlyphs">1998</text>
<line x1="73.50" y1="434.5" x2="73.50" y2="439.5" stroke="#000" stroke-width="1"/>
<text transform="translate(77.45,447.5) rotate(-90)" font-size="10.4" text-anchor="end" textLength="26.47" lengthAdjust="spacingAndGlyphs">1999</text>
<line x1="85.50" y1="434.5" x2="85.50" y2="439.5" stroke="#000" stroke-width="1"/>
<text transform="translate(89.15,447.5) rotate(-90)" font-size="10.4" text-anchor="end" textLength="26.47" lengthAdjust="spacingAndGlyphs">2000</text>
<line x1="96.50" y1="434.5" x2="96.50" y2="439.5" stroke="#000" stroke-width="1"/>
<text transform="translate(100.85,447.5) rotate(-90)" font-size="10.4" text-anchor="end" textLength="26.47" lengthAdjust="spacingAndGlyphs">2001</text>
<line x1="108.50" y1="434.5" x2="108.50" y2="439.5" stroke="#000" stroke-width="1"/>
<text transform="translate(112.55,447.5) rotate(-90)" font-size="10.4" text-anchor="end" textLength="26.47" lengthAdjust="spacingAndGlyphs">2002</text>
<line x1="120.50" y1="434.5" x2="120.50" y2="439.5" stroke="#000" stroke-width="1"/>
<text transform="translate(124.25,447.5) rotate(-90)" font-size="10.4" text-anchor="end" textLength="26.47" lengthAdjust="spacingAndGlyphs">2003</text>
<line x1="131.50" y1="434.5" x2="131.50" y2="439.5" stroke="#000" stroke-width="1"/>
<text transform="translate(135.95,447.5) rotate(-90)" font-size="10.4" text-anchor="end" textLength="26.47" lengthAdjust="spacingAndGlyphs">2004</text>
<line x1="143.50" y1="434.5" x2="143.50" y2="439.5" stroke="#000" stroke-width="1"/>
<text transform="translate(147.65,447.5) rotate(-90)" font-size="10.4" text-anchor="end" textLength="26.47" lengthAdjust="spacingAndGlyphs">2005</text>
<line x1="155.50" y1="434.5" x2="155.50" y2="439.5" stroke="#000" stroke-width="1"/>
<text transform="translate(159.35,447.5) rotate(-90)" font-size="10.4" text-anchor="end" textLength="26.47" lengthAdjust="spacingAndGlyphs">2006</text>
<line x1="167.50" y1="434.5" x2="167.50" y2="439.5" stroke="#000" stroke-width="1"/>
<text transform="translate(171.05,447.5) rotate(-90)" font-size="10.4" text-anchor="end" textLength="26.47" lengthAdjust="spacingAndGlyphs">2007</text>
<line x1="178.50" y1="434.5" x2="178.50" y2="439.5" stroke="#000" stroke-width="1"/>
<text transform="translate(182.75,447.5) rotate(-90)" font-size="10.4" text-anchor="end" textLength="26.47" lengthAdjust="spacingAndGlyphs">2008</text>
<line x1="190.50" y1="434.5" x2="190.50" y2="439.5" stroke="#000" stroke-width="1"/>
<text transform="translate(194.45,447.5) rotate(-90)" font-size="10.4" text-anchor="end" textLength="26.47" lengthAdjust="spacingAndGlyphs">2009</text>
<line x1="202.50" y1="434.5" x2="202.50" y2="439.5" stroke="#000" stroke-width="1"/>
<text transform="translate(206.15,447.5) rotate(-90)" font-size="10.4" text-anchor="end" textLength="26.47" lengthAdjust="spacingAndGlyphs">2010</text>
<line x1="213.50" y1="434.5" x2="213.50" y2="439.5" stroke="#000" stroke-width="1"/>
<text transform="translate(217.85,447.5) rotate(-90)" font-size="10.4" text-anchor="end" textLength="26.47" lengthAdjust="spacingAndGlyphs">2011</text>
<line x1="225.50" y1="434.5" x2="225.50" y2="439.5" stroke="#000" stroke-width="1"/>
<text transform="translate(229.55,447.5) rotate(-90)" font-size="10.4" text-anchor="end" textLength="26.47" lengthAdjust="spacingAndGlyphs">2012</text>
<line x1="237.50" y1="434.5" x2="237.50" y2="439.5" stroke="#000" stroke-width="1"/>
<text transform="translate(241.25,447.5) rotate(-90)" font-size="10.4" text-anchor="end" textLength="26.47" lengthAdjust="spacingAndGlyphs">2013</text>
<line x1="248.50" y1="434.5" x2="248.50" y2="439.5" stroke="#000" stroke-width="1"/>
<text transform="translate(252.95,447.5) rotate(-90)" font-size="10.4" text-anchor="end" textLength="26.47" lengthAdjust="spacingAndGlyphs">2014</text>
<line x1="260.50" y1="434.5" x2="260.50" y2="439.5" stroke="#000" stroke-width="1"/>
<text transform="translate(264.65,447.5) rotate(-90)" font-size="10.4" text-anchor="end" textLength="26.47" lengthAdjust="spacingAndGlyphs">2015</text>
<line x1="272.50" y1="434.5" x2="272.50" y2="439.5" stroke="#000" stroke-width="1"/>
<text transform="translate(276.35,447.5) rotate(-90)" font-size="10.4" text-anchor="end" textLength="26.47" lengthAdjust="spacingAndGlyphs">2016</text>
<line x1="284.50" y1="434.5" x2="284.50" y2="439.5" stroke="#000" stroke-width="1"/>
<text transform="translate(288.05,447.5) rotate(-90)" font-size="10.4" text-anchor="end" textLength="26.47" lengthAdjust="spacingAndGlyphs">2017</text>
<line x1="295.50" y1="434.5" x2="295.50" y2="439.5" stroke="#000" stroke-width="1"/>
<text transform="translate(299.75,447.5) rotate(-90)" font-size="10.4" text-anchor="end" textLength="26.47" lengthAdjust="spacingAndGlyphs">2018</text>
<line x1="307.50" y1="434.5" x2="307.50" y2="439.5" stroke="#000" stroke-width="1"/>
<text transform="translate(311.45,447.5) rotate(-90)" font-size="10.4" text-anchor="end" textLength="26.47" lengthAdjust="spacingAndGlyphs">2019</text>
<line x1="319.50" y1="434.5" x2="319.50" y2="439.5" stroke="#000" stroke-width="1"/>
<text transform="translate(323.15,447.5) rotate(-90)" font-size="10.4" text-anchor="end" textLength="26.47" lengthAdjust="spacingAndGlyphs">2020</text>
<line x1="330.50" y1="434.5" x2="330.50" y2="439.5" stroke="#000" stroke-width="1"/>
<text transform="translate(334.85,447.5) rotate(-90)" font-size="10.4" text-anchor="end" textLength="26.47" lengthAdjust="spacingAndGlyphs">2021</text>
<line x1="342.50" y1="434.5" x2="342.50" y2="439.5" stroke="#000" stroke-width="1"/>
<text transform="translate(346.55,447.5) rotate(-90)" font-size="10.4" text-anchor="end" textLength="26.47" lengthAdjust="spacingAndGlyphs">2022</text>
<line x1="354.50" y1="434.5" x2="354.50" y2="439.5" stroke="#000" stroke-width="1"/>
<text transform="translate(358.25,447.5) rotate(-90)" font-size="10.4" text-anchor="end" textLength="26.47" lengthAdjust="spacingAndGlyphs">2023</text>
<line x1="365.50" y1="434.5" x2="365.50" y2="439.5" stroke="#000" stroke-width="1"/>
<text transform="translate(369.95,447.5) rotate(-90)" font-size="10.4" text-anchor="end" textLength="26.47" lengthAdjust="spacingAndGlyphs">2024</text>
<line x1="377.50" y1="434.5" x2="377.50" y2="439.5" stroke="#000" stroke-width="1"/>
<text transform="translate(381.65,447.5) rotate(-90)" font-size="10.4" text-anchor="end" textLength="26.47" lengthAdjust="spacingAndGlyphs">2025</text>
<line x1="389.50" y1="434.5" x2="389.50" y2="439.5" stroke="#000" stroke-width="1"/>
<text transform="translate(393.35,447.5) rotate(-90)" font-size="10.4" text-anchor="end" textLength="26.47" lengthAdjust="spacingAndGlyphs">2026</text>
<rect x="403.5" y="83.5" width="18" height="351.0" fill="url(#cb)" stroke="#000" stroke-width="1"/>
<line x1="421.5" y1="434.50" x2="426.5" y2="434.50" stroke="#000" stroke-width="1"/>
<line x1="421.5" y1="425.11" x2="426.5" y2="425.11" stroke="#000" stroke-width="1"/>
<line x1="421.5" y1="387.57" x2="426.5" y2="387.57" stroke="#000" stroke-width="1"/>
<line x1="421.5" y1="350.03" x2="426.5" y2="350.03" stroke="#000" stroke-width="1"/>
<line x1="421.5" y1="312.48" x2="426.5" y2="312.48" stroke="#000" stroke-width="1"/>
<line x1="421.5" y1="274.94" x2="426.5" y2="274.94" stroke="#000" stroke-width="1"/>
<line x1="421.5" y1="237.39" x2="426.5" y2="237.39" stroke="#000" stroke-width="1"/>
<line x1="421.5" y1="199.85" x2="426.5" y2="199.85" stroke="#000" stroke-width="1"/>
<line x1="421.5" y1="162.31" x2="426.5" y2="162.31" stroke="#000" stroke-width="1"/>
<line x1="421.5" y1="124.76" x2="426.5" y2="124.76" stroke="#000" stroke-width="1"/>
<line x1="421.5" y1="87.22" x2="426.5" y2="87.22" stroke="#000" stroke-width="1"/>
<line x1="421.5" y1="83.50" x2="426.5" y2="83.50" stroke="#000" stroke-width="1"/>
<text x="434.2" y="429.51" font-size="10.4" textLength="10.37" lengthAdjust="spacingAndGlyphs">-4</text>
<text x="434.2" y="391.97" font-size="10.4" textLength="10.37" lengthAdjust="spacingAndGlyphs">-2</text>
<text x="437.5" y="354.43" font-size="10.4" textLength="6.62" lengthAdjust="spacingAndGlyphs">0</text>
<text x="437.5" y="316.88" font-size="10.4" textLength="6.62" lengthAdjust="spacingAndGlyphs">2</text>
<text x="437.5" y="279.34" font-size="10.4" textLength="6.62" lengthAdjust="spacingAndGlyphs">4</text>
<text x="437.5" y="241.79" font-size="10.4" textLength="6.62" lengthAdjust="spacingAndGlyphs">6</text>
<text x="437.5" y="204.25" font-size="10.4" textLength="6.62" lengthAdjust="spacingAndGlyphs">8</text>
<text x="437.5" y="166.71" font-size="10.4" textLength="13.23" lengthAdjust="spacingAndGlyphs">10</text>
<text x="437.5" y="129.16" font-size="10.4" textLength="13.23" lengthAdjust="spacingAndGlyphs">12</text>
<text x="437.5" y="91.62" font-size="10.4" textLength="13.23" lengthAdjust="spacingAndGlyphs">14</text>
<text x="437.8" y="87" font-size="10.4" textLength="48.41" lengthAdjust="spacingAndGlyphs">&gt; 14.198</text>
<text x="437.6" y="439.1" font-size="10.4" textLength="45.55" lengthAdjust="spacingAndGlyphs">&lt; -4.500</text>
<text x="220" y="25.4" font-size="14" font-weight="bold" text-anchor="middle" textLength="224" lengthAdjust="spacingAndGlyphs">GRF San Joaquin R at Gravelly Ford</text>
<text x="220" y="45" font-size="14" font-weight="bold" text-anchor="middle" textLength="263.5" lengthAdjust="spacingAndGlyphs">WY 1997-2026 Daily Average River Stage</text>
<text x="220" y="63.5" font-size="14" font-weight="bold" text-anchor="middle" textLength="218" lengthAdjust="spacingAndGlyphs">Observed Range -4.500 : 14.198 ft</text>
<text x="5.3" y="489.1" font-size="11.4" fill="#4a5459" textLength="208.7" lengthAdjust="spacingAndGlyphs">www.cbr.washington.edu/sacramento/</text>
<text x="350.6" y="489.1" font-size="11.4" fill="#4a5459" textLength="143.6" lengthAdjust="spacingAndGlyphs">23 Nov 2025 15:47:51 PST</text>
</svg></body></html>
